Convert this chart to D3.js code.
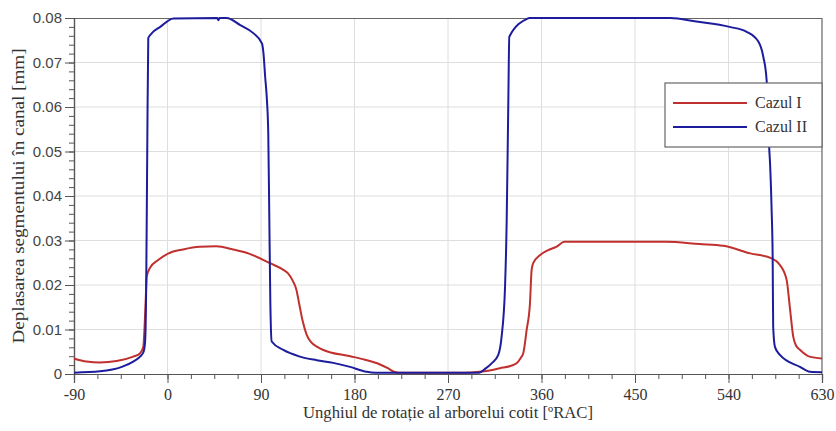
<!DOCTYPE html>
<html>
<head>
<meta charset="utf-8">
<script src="https://cdn.jsdelivr.net/npm/d3@7.8.5/dist/d3.min.js"></script>
<style>
  body { margin: 0; background: #fff; }
  svg text { font-family: "Liberation Serif", "Times New Roman", serif; fill: #333; }
</style>
</head>
<body>
<div id="chart"></div>
<script>
// Cazul I (red)
const angleI = [-90, -78, -65, -49, -33, -26.5, -23.3, -22, -21, -20, -17, -9, 1, 15, 31, 47, 63, 79,
  98.7, 111.5, 116, 120, 124, 127, 130, 134, 138, 145, 150, 176, 190, 204, 212, 218, 222, 286, 300, 310,
  320, 330, 336, 340, 342.5, 345.7, 348.9, 350.5, 352, 358.5, 366, 374.6, 382, 480, 512, 535, 561, 581.5,
  589.5, 596, 599, 602.3, 605, 609, 618, 630];
const valueI = [0.0035, 0.0028, 0.0026, 0.0029, 0.0039, 0.0046, 0.0061, 0.011, 0.0165, 0.0219, 0.0238,
  0.0256, 0.0271, 0.028, 0.0286, 0.0287, 0.028, 0.027, 0.0249, 0.0234, 0.0226, 0.0212, 0.019, 0.0155,
  0.012, 0.0088, 0.0072, 0.006, 0.0054, 0.004, 0.0032, 0.0022, 0.0013, 0.0005, 0.0003, 0.0003, 0.0005,
  0.0008, 0.0013, 0.0018, 0.0024, 0.0036, 0.0047, 0.0099, 0.0159, 0.0234, 0.0249, 0.0267, 0.0278, 0.0286,
  0.0297, 0.0297, 0.0292, 0.0288, 0.0271, 0.026, 0.0245, 0.0211, 0.0151, 0.0084, 0.0064, 0.0054, 0.0039,
  0.0035];

// Cazul II (blue)
const angleII = [-90, -65, -44, -33, -26.4, -23, -21.5, -20.5, -19.5, -18.5, -15, -7, 5.7, 48, 49, 50, 57,
  70, 82.6, 90.9, 92.4, 94, 95.7, 97, 98, 99, 100.3, 111.5, 127.5, 143.6, 159.6, 175.7, 191.7, 200, 300,
  306, 312, 318.4, 321.6, 324.9, 326.5, 328, 329, 347, 348, 484, 509, 541, 557.5, 568.7, 573.5, 576.7,
  579.2, 580, 581.5, 582.5, 583, 584.7, 589.5, 608.8, 618.4, 630];
const valueII = [0.0003, 0.0006, 0.0016, 0.0028, 0.0039, 0.005, 0.0075, 0.02, 0.05, 0.0755, 0.0766, 0.078,
  0.0799, 0.08, 0.0795, 0.08, 0.08, 0.0784, 0.0766, 0.0743, 0.072, 0.0668, 0.0616, 0.054, 0.035, 0.0159,
  0.0073, 0.0054, 0.0039, 0.0031, 0.0025, 0.0016, 0.0005, 0.0003, 0.0003, 0.0012, 0.0024, 0.0043, 0.0084,
  0.0196, 0.0346, 0.06, 0.0758, 0.0799, 0.08, 0.08, 0.0792, 0.078, 0.0769, 0.0747, 0.0713, 0.066, 0.0507,
  0.0473, 0.0369, 0.0264, 0.0106, 0.0061, 0.0043, 0.0016, 0.0005, 0.0004];

const xTicks = [-90, 0, 90, 180, 270, 360, 450, 540, 630];
const yTicks = [0, 0.01, 0.02, 0.03, 0.04, 0.05, 0.06, 0.07, 0.08];
const seriesNames = ['Cazul I', 'Cazul II'];
const seriesColors = ['#c0302e', '#1c1c9c'];

const width = 836, height = 431;
const margin = { top: 18, right: 14, bottom: 57, left: 74 };
const innerW = width - margin.left - margin.right;
const innerH = height - margin.top - margin.bottom;
const serif = '"Liberation Serif", "Times New Roman", serif';
const sans = '"Liberation Sans", Arial, sans-serif';

const svg = d3.select('#chart').append('svg')
  .attr('width', width)
  .attr('height', height);

const g = svg.append('g')
  .attr('transform', `translate(${margin.left},${margin.top})`);

const x = d3.scaleLinear().domain([-90, 630]).range([0, innerW]);
const y = d3.scaleLinear().domain([0, 0.08]).range([innerH, 0]);

// grid
g.append('g').selectAll('line')
  .data(xTicks.slice(1, -1))
  .enter().append('line')
  .attr('x1', d => x(d)).attr('x2', d => x(d))
  .attr('y1', 0).attr('y2', innerH)
  .attr('stroke', '#dedede').attr('stroke-width', 1);

g.append('g').selectAll('line')
  .data(yTicks.slice(1, -1))
  .enter().append('line')
  .attr('x1', 0).attr('x2', innerW)
  .attr('y1', d => y(d)).attr('y2', d => y(d))
  .attr('stroke', '#dedede').attr('stroke-width', 1);

// border (top + right)
g.append('path')
  .attr('d', `M0,0.5H${innerW}V${innerH}`)
  .attr('fill', 'none')
  .attr('stroke', '#666')
  .attr('stroke-width', 1.2);

// minor ticks
const xMinor = d3.range(-90, 630.1, 22.5);
const yMinor = d3.range(0, 0.0801, 0.002);

g.append('g')
  .attr('transform', `translate(0,${innerH})`)
  .call(d3.axisBottom(x).tickValues(xMinor).tickSize(5).tickFormat(''));
const xAxisG = g.append('g')
  .attr('transform', `translate(0,${innerH})`)
  .call(d3.axisBottom(x).tickValues(xTicks).tickSize(9).tickPadding(6).tickFormat(d => String(d)));

g.append('g')
  .call(d3.axisLeft(y).tickValues(yMinor).tickSize(5).tickFormat(''));
const yAxisG = g.append('g')
  .call(d3.axisLeft(y).tickValues(yTicks).tickSize(9).tickPadding(3)
    .tickFormat(d => d === 0 ? '0' : d3.format('.2f')(d)));

svg.selectAll('.domain').attr('stroke', '#555').attr('stroke-width', 1.2);
svg.selectAll('.tick line').attr('stroke', '#555');
xAxisG.selectAll('.tick text')
  .style('font-family', serif)
  .style('font-size', '16px')
  .style('fill', '#333');
yAxisG.selectAll('.tick text')
  .style('font-family', sans)
  .style('font-size', '15px')
  .style('fill', '#444');

// lines
const line = d3.line()
  .curve(d3.curveMonotoneX)
  .x(d => x(d[0]))
  .y(d => y(d[1]));

const seriesData = [
  angleI.map((a, i) => [a, valueI[i]]),
  angleII.map((a, i) => [a, valueII[i]])
];

seriesData.forEach((data, i) => {
  g.append('path')
    .datum(data)
    .attr('fill', 'none')
    .attr('stroke', seriesColors[i])
    .attr('stroke-width', 2)
    .attr('stroke-linejoin', 'round')
    .attr('d', line);
});

// legend
const legend = svg.append('g').attr('transform', 'translate(665,83)');
legend.append('rect')
  .attr('width', 157).attr('height', 64)
  .attr('fill', '#fff')
  .attr('stroke', '#666')
  .attr('stroke-width', 1.2);

seriesNames.forEach((name, i) => {
  const ly = 20 + i * 24;
  legend.append('line')
    .attr('x1', 8).attr('x2', 82)
    .attr('y1', ly).attr('y2', ly)
    .attr('stroke', seriesColors[i])
    .attr('stroke-width', 2.2);
  legend.append('text')
    .attr('x', 90).attr('y', ly + 5)
    .style('font-size', '16px')
    .text(name);
});

// axis titles
svg.append('text')
  .attr('x', margin.left + innerW / 2)
  .attr('y', 418)
  .attr('text-anchor', 'middle')
  .attr('textLength', 290)
  .attr('lengthAdjust', 'spacingAndGlyphs')
  .style('font-size', '16px')
  .text('Unghiul de rotație al arborelui cotit [ºRAC]');

svg.append('text')
  .attr('transform', `translate(24,${margin.top + innerH / 2}) rotate(-90)`)
  .attr('text-anchor', 'middle')
  .attr('textLength', 295)
  .attr('lengthAdjust', 'spacingAndGlyphs')
  .style('font-size', '16px')
  .text('Deplasarea segmentului în canal [mm]');
</script>
</body>
</html>
